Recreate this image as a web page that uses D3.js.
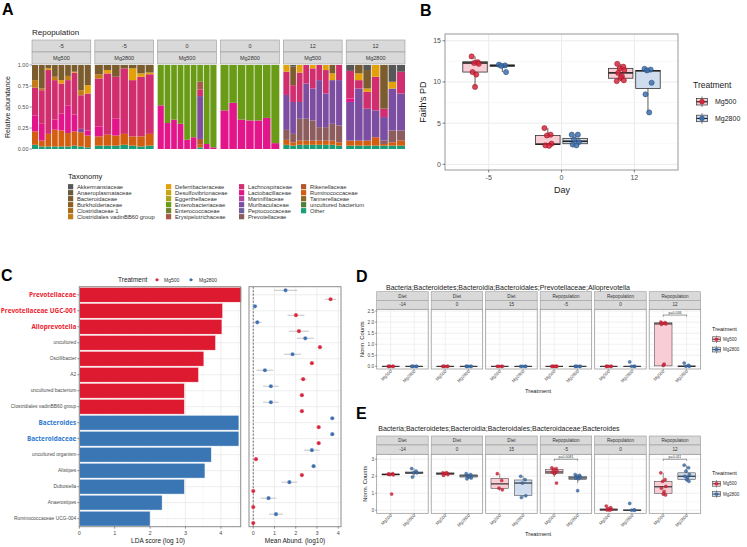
<!DOCTYPE html>
<html><head><meta charset="utf-8">
<script src="https://cdn.jsdelivr.net/npm/d3@7/dist/d3.min.js"></script>
<style>html,body{margin:0;padding:0;background:#fff;}</style>
</head><body>
<script>
// ================= DATA =================
// Panel A
const taxaNames = ["Akkermansiaceae","Anaeroplasmataceae","Bacteroidaceae","Burkholderiaceae","Clostridiaceae 1","Clostridiales vadinBB60 group","Deferribacteraceae","Desulfovibrionaceae","Eggerthellaceae","Enterobacteriaceae","Enterococcaceae","Erysipelotrichaceae","Lachnospiraceae","Lactobacillaceae","Marinifilaceae","Muribaculaceae","Peptococcaceae","Prevotellaceae","Rikenellaceae","Ruminococcaceae","Tannerellaceae","uncultured bacterium","Other"];
const taxaKeys = ["Akk","Ana","Bac","Bur","Clo","CvB","Def","Des","Egg","Ent","Enc","Ery","Lac","Lab","Mar","Mur","Pep","Pre","Rik","Rum","Tan","Unc","Oth"];
const taxaColors = ["#575757","#6b5b3e","#7a5c2e","#8c5f22","#a7691b","#c27c16","#e3a008","#c9a50f","#a9a517","#6a9b17","#71802a","#a8574a","#d02e6e","#e2168a","#b2419e","#7b4ea1","#6f5f9d","#8d5c5c","#b4562b","#d45e0f","#8c6b28","#4f7f3a","#1b9e77"];
const facetDaysA = ["-5","-5","0","0","12","12"];
const facetTrtA = ["Mg500","Mg2800","Mg500","Mg2800","Mg500","Mg2800"];
const barsDm5Mg500 = [
 {Bac:.18,CvB:.09,Lac:.33,Lab:.19,Rum:.16,Oth:.05},
 {Bac:.28,CvB:.02,Lac:.40,Lab:.20,Rum:.07,Oth:.03},
 {Bac:.04,Def:.02,Lac:.76,Rum:.15,Oth:.03},
 {Bac:.14,CvB:.04,Lac:.47,Lab:.12,Rum:.20,Oth:.03},
 {Bac:.18,Def:.04,Lac:.36,Lab:.20,Rum:.19,Oth:.03},
 {Bac:.13,CvB:.05,Lac:.30,Lab:.33,Rum:.16,Oth:.03},
 {Bac:.08,Def:.01,Lac:.50,Lab:.20,Rum:.17,Oth:.04},
 {Bac:.30,CvB:.06,Lac:.40,Mur:.04,Rum:.17,Oth:.03},
 {Bac:.24,Def:.10,Lac:.44,Lab:.06,Rum:.14,Oth:.02}];
const barsDm5Mg2800 = [
 {Bac:.11,CvB:.05,Lac:.57,Lab:.12,Rum:.11,Oth:.04},
 {Bac:.06,Def:.04,Lac:.73,Rum:.13,Oth:.04},
 {Bac:.14,Lac:.50,Lab:.20,Rum:.12,Oth:.04},
 {Bac:.04,Lac:.78,Rum:.13,Oth:.05},
 {Bac:.04,Def:.14,Lac:.67,Rum:.11,Oth:.04},
 {Bac:.10,Def:.04,Lac:.71,Rum:.12,Oth:.03},
 {Bac:.09,Def:.02,Lac:.71,Rum:.14,Oth:.04}];
const barsD0Mg500 = [
 {Ent:.48,Lab:.52},{Ent:.69,Lab:.31},{Ent:.65,Lab:.35},{Ent:.70,Lab:.30},{Ent:.89,Lab:.11},
 {Ent:.86,Lab:.14},{Ent:.20,Ery:.09,Lac:.08,Mur:.51,Rik:.07,Rum:.03,Oth:.02},{Ent:.94,Lab:.06},{Ent:.98,Lab:.02}];
const barsD0Mg2800 = [
 {Ent:.54,Lab:.46},{Ent:.45,Lab:.55},{Ent:.65,Lab:.35},{Ent:.66,Lab:.34},{Ent:.66,Lab:.34},{Ent:.63,Lab:.37},{Ent:.93,Lab:.07}];
const barsD12Mg500 = [
 {Def:.08,Lac:.28,Mur:.42,Pre:.12,Rum:.06,Oth:.05},
 {Akk:.02,Bac:.22,Lac:.20,Mur:.38,Pre:.10,Rum:.04,Oth:.04},
 {Def:.09,Lac:.35,Mur:.20,Pre:.26,Rum:.05,Oth:.05},
 {Lac:.22,Mur:.42,Pre:.26,Rum:.05,Oth:.05},
 {Def:.04,Lac:.24,Mur:.38,Pre:.24,Rum:.05,Oth:.05},
 {Lac:.18,Mur:.56,Pre:.16,Rum:.05,Oth:.05},
 {Def:.06,Lac:.28,Mur:.40,Pre:.16,Rum:.05,Oth:.05},
 {Bac:.10,Def:.08,Mur:.52,Pre:.20,Rum:.05,Oth:.05},
 {Lac:.18,Mur:.54,Pre:.20,Rum:.04,Oth:.04}];
const barsD12Mg2800 = [
 {Akk:.07,Lac:.33,Lab:.04,Mur:.46,Rum:.06,Oth:.04},
 {Bac:.10,Def:.08,Lac:.10,Mur:.62,Rum:.06,Oth:.04},
 {Akk:.06,Bac:.22,Def:.04,Lac:.20,Mur:.38,Rum:.06,Oth:.04},
 {Def:.14,Lac:.40,Mur:.32,Rum:.10,Oth:.04},
 {Bac:.52,Lac:.10,Mur:.28,Pre:.04,Rum:.02,Oth:.04},
 {Akk:.20,Def:.08,Mur:.50,Pre:.14,Rum:.04,Oth:.04},
 {Akk:.08,Lac:.26,Mur:.44,Pre:.12,Rum:.06,Oth:.04}];
const yTicksA = [0,0.25,0.5,0.75,1];

// Panel B
const bDays = ["-5","0","12"];
const treatments = ["Mg500","Mg2800"];
const faithPts500 = [[13.1,12.4,12.3,12.2,11.2,10.9,9.4],[4.4,3.6,3.5,2.5,2.3,2.25],[12.2,11.85,11.65,11.45,11.1,10.7,10.5,10.2,10.1]];
const faithPts2800 = [[12.1,12.0,11.95,11.2],[3.6,3.6,3.0,2.7,2.4,2.3],[11.6,11.5,11.4,9.9,8.5,6.3]];
// [q1, median, q3, lower whisker, upper whisker]
const faithBox500 = [[11.2,12.3,12.45,9.4,13.1],[2.4,2.45,3.5,2.25,4.4],[10.45,11.1,11.65,10.1,12.2]];
const faithBox2800 = [[11.9,12.0,12.05,11.2,12.1],[2.5,2.8,3.15,2.3,3.6],[9.2,11.35,11.4,6.3,11.6]];
const yTicksB = [0,5,10,15];

// Panel C
const ldaTaxa = ["Prevotellaceae","Prevotellaceae UGC-001","Alloprevotella","uncultured","Oscillibacter","A2","uncultured bacterium","Clostridiales vadinBB60 group","Bacteroides","Bacteroidaceae","uncultured organism","Alistipes","Dubosiella","Anaerostipes","Ruminococcaceae UCG-004"];
const ldaScore = [4.62,4.05,4.03,3.85,3.52,3.37,2.97,2.97,4.51,4.51,3.73,3.55,2.97,2.34,2.0];
const ldaGroup = ["Mg500","Mg500","Mg500","Mg500","Mg500","Mg500","Mg500","Mg500","Mg2800","Mg2800","Mg2800","Mg2800","Mg2800","Mg2800","Mg2800"];
const ldaHighlight = [1,1,1,0,0,0,0,0,1,1,0,0,0,0,0];
const abund500 = [3.64,2.01,2.15,3.14,2.76,2.35,2.29,2.29,3.08,3.08,0.13,2.29,0,0,0];
const abund500Err = [0.27,0.4,0.47,0.1,0.1,0.17,0.1,0.1,0.08,0.08,0.1,0.1,0,0,0];
const abund2800 = [1.52,0.08,0.19,2.45,1.85,0.55,0.83,0.83,3.72,3.72,2.76,2.84,1.70,0.72,1.07];
const abund2800Err = [0.55,0.1,0.2,0.4,0.4,0.4,0.37,0.37,0.08,0.08,0.37,0.1,0.37,0.37,0.33];
const ldaTicks = [0,1,2,3,4];

// Panels D & E
const phaseLabels = ["Diet","Diet","Diet","Repopulation","Repopulation","Repopulation"];
const dayLabels = ["-14","0","15","-5","0","12"];
const dTitle = "Bacteria;Bacteroidetes;Bacteroidia;Bacteroidales;Prevotellaceae;Alloprevotella";
const dPts500 = [[0,0,0,0,0],[0,0,0,0,0],[0,0,0,0],[0,0,0,0,0,0],[0,0,0,0,0],[2.0,1.98,1.95,1.92,1.9,0.1,0.04]];
const dPts2800 = [[0,0,0,0,0],[0,0,0,0,0],[0,0,0,0],[0,0,0,0,0],[0.2,0,0,0],[0.15,0.05,0,0]];
const dBox500 = [[0,0,0,0,0],[0,0,0,0,0],[0,0,0,0,0],[0,0,0,0,0],[0,0,0,0,0],[0.02,1.92,1.97,0,2.0]];
const dBox2800 = [[0,0,0,0,0],[0,0,0,0,0],[0,0,0,0,0],[0,0,0,0,0],[0,0,0,0,0.0],[0,0,0.02,0,0.05]];
const dTicks = [0,0.5,1,1.5,2,2.5];
const dBrackets = [{facet:5, y:2.32, label:"p=0.036"}];
const eTitle = "Bacteria;Bacteroidetes;Bacteroidia;Bacteroidales;Bacteroidaceae;Bacteroides";
const ePts500 = [[2.12,2.15,2.1,2.08,2.13,0.95],[2.2,2.18,2.15,2.1,2.05,2.2],[2.15,1.75,1.3,1.2],[2.5,2.45,2.4,2.3,2.25,2.2,2.15,1.6],[0.25,0.15,0.1,0.05,0.02,0],[2.2,1.8,1.7,1.4,1.3,1.1,0.95,0.9]];
const ePts2800 = [[2.45,2.3,2.2,2.2,1.95],[2.15,2.1,2.0,1.9,1.85,1.95],[2.0,1.8,1.6,0.85,0.75],[2.1,2.05,2.0,1.95,1.9,1.85,1.15],[0.4,0.02,0,0],[2.65,2.5,2.3,2.1,2.0,1.9,1.8,1.7]];
const eBox500 = [[2.08,2.1,2.14,2.05,2.16],[2.1,2.15,2.2,2.05,2.22],[1.28,1.55,1.88,1.15,2.15],[2.15,2.25,2.4,1.95,2.5],[0,0.03,0.08,0,0.15],[1.0,1.38,1.7,0.88,2.2]];
const eBox2800 = [[2.15,2.2,2.25,1.95,2.45],[1.95,2.02,2.08,1.85,2.15],[0.87,1.6,1.78,0.75,2.0],[1.8,1.9,2.0,1.6,2.1],[0,0,0.02,0,0.05],[1.82,2.0,2.2,1.7,2.65]];
const eTicks = [0,1,2,3];
const eBrackets = [{facet:3, y:3.0, label:"p=0.0081"},{facet:5, y:3.0, label:"p=0.011"}];

// ================= STYLE =================
const FONT = "'Liberation Sans', Arial, Helvetica, sans-serif";
const TXT = "#1a1a1a", AX = "#4d4d4d", GRID = "#ebebeb", BORDER = "#8c8c8c";
const trtPoint = {Mg500:"#d7263d", Mg2800:"#3d70ae"};
const trtStroke = {Mg500:"#8e1422", Mg2800:"#22446f"};
const trtFill = {Mg500:"#f9cdd4", Mg2800:"#d0ddee"};
const ldaColor = {Mg500:"#dd1a2f", Mg2800:"#3a75b4"};
const jit = [-0.28,0.22,-0.08,0.3,-0.2,0.1,0.0,0.26,-0.32,0.16];

const svg = d3.select("body").append("svg").attr("width",747).attr("height",547).style("font-family",FONT).style("display","block");
svg.append("rect").attr("width",747).attr("height",547).attr("fill","#fff");

function txt(g,x,y,s,o={}){
  const t=g.append("text").attr("x",x).attr("y",y).text(s)
    .attr("font-size",o.size||6).attr("fill",o.fill||TXT).attr("text-anchor",o.anchor||"start");
  if(o.weight) t.attr("font-weight",o.weight);
  if(o.rotate!==undefined) t.attr("transform",`rotate(${o.rotate},${x},${y})`);
  if(o.family) t.attr("font-family",o.family);
  return t;
}
function hline(g,x1,x2,y,c,w,dash){const l=g.append("line").attr("x1",x1).attr("x2",x2).attr("y1",y).attr("y2",y).attr("stroke",c).attr("stroke-width",w); if(dash) l.attr("stroke-dasharray",dash); return l;}
function vline(g,x,y1,y2,c,w,dash){const l=g.append("line").attr("x1",x).attr("x2",x).attr("y1",y1).attr("y2",y2).attr("stroke",c).attr("stroke-width",w); if(dash) l.attr("stroke-dasharray",dash); return l;}
function strip(g,x,y,w,h,label,fs){
  g.append("rect").attr("x",x).attr("y",y).attr("width",w).attr("height",h).attr("fill","#d9d9d9").attr("stroke","#9a9a9a").attr("stroke-width",0.6);
  txt(g,x+w/2,y+h/2+fs*0.36,label,{size:fs,anchor:"middle",fill:"#333"});
}

// ================= PANEL A =================
(function(){
  const g=svg.append("g");
  txt(g,2,15,"A",{size:16,weight:"bold",fill:"#000"});
  txt(g,32,35,"Repopulation",{size:8});
  const color=d3.scaleOrdinal(taxaKeys,taxaColors);
  const facets=[barsDm5Mg500,barsDm5Mg2800,barsD0Mg500,barsD0Mg2800,barsD12Mg500,barsD12Mg2800];
  const fx=d3.scaleBand().domain(d3.range(6)).range([32,405]).paddingInner(0.064);
  const y=d3.scaleLinear().domain([0,1]).range([149,65]);
  const stack=d3.stack().keys(taxaKeys.slice().reverse()).value((d,k)=>d[k]||0).offset(d3.stackOffsetExpand);
  facets.forEach((bars,i)=>{
    const px=fx(i), w=fx.bandwidth();
    strip(g,px,40,w,12,facetDaysA[i],5.5);
    strip(g,px,52,w,12,facetTrtA[i],5.5);
    const bx=d3.scaleBand().domain(d3.range(bars.length)).range([px,px+w]);
    stack(bars).forEach(s=>{
      s.forEach((seg,j)=>{
        if(seg[1]-seg[0]<=0) return;
        g.append("rect").attr("x",bx(j)).attr("y",y(seg[1])).attr("width",bx.bandwidth()).attr("height",y(seg[0])-y(seg[1])).attr("fill",color(s.key));
      });
    });
    d3.range(1,bars.length).forEach(j=>vline(g,bx(j),y(1),y(0),"#fff",0.7));
  });
  yTicksA.forEach(t=>{
    hline(g,29.5,32,y(t),"#333",0.5);
    txt(g,28.5,y(t)+2,d3.format(".2f")(t),{size:5.5,anchor:"end",fill:AX});
  });
  txt(g,10,107,"Relative abundance",{size:7,anchor:"middle",rotate:-90});
  // legend
  txt(g,68,179,"Taxonomy",{size:7.5});
  const colX=[68,166,239,301];
  taxaNames.forEach((n,k)=>{
    const c=Math.floor(k/6), r=k%6;
    const cy=186.7+r*6;
    g.append("rect").attr("x",colX[c]).attr("y",cy-2.6).attr("width",5.2).attr("height",5.2).attr("fill",taxaColors[k]);
    txt(g,colX[c]+9,cy+2,n,{size:5.8,fill:"#333"});
  });
})();

// ================= PANEL B =================
(function(){
  const g=svg.append("g");
  txt(g,420,16,"B",{size:16,weight:"bold",fill:"#000"});
  const L=445,R=678,T=34,B=170;
  const x=d3.scalePoint().domain(bDays).range([L,R]).padding(0.6);
  const y=d3.scaleLinear().domain([-0.69,15.82]).range([B,T]);
  g.append("rect").attr("x",L).attr("y",T).attr("width",R-L).attr("height",B-T).attr("fill","#fff");
  [2.5,7.5,12.5].forEach(t=>hline(g,L,R,y(t),"#f3f3f3",0.6));
  yTicksB.forEach(t=>hline(g,L,R,y(t),GRID,1));
  bDays.forEach(d=>vline(g,x(d),T,B,GRID,1));
  const off=x.step()*0.1875, bw=24.5;
  [[faithPts500,faithBox500,"Mg500",-1],[faithPts2800,faithBox2800,"Mg2800",1]].forEach(([pts,box,trt,sgn])=>{
    bDays.forEach((d,i)=>{
      const cx=x(d)+sgn*off, b=box[i];
      vline(g,cx,y(b[3]),y(b[0]),"#333",0.8);
      vline(g,cx,y(b[2]),y(b[4]),"#333",0.8);
      g.append("rect").attr("x",cx-bw/2).attr("y",y(b[2])).attr("width",bw).attr("height",Math.max(0,y(b[0])-y(b[2]))).attr("fill",trtFill[trt]).attr("stroke","#333").attr("stroke-width",0.8);
      hline(g,cx-bw/2,cx+bw/2,y(b[1]),"#222",1.6);
      pts[i].forEach((v,k)=>{
        g.append("circle").attr("cx",cx+jit[k%jit.length]*bw*0.5).attr("cy",y(v)).attr("r",2.6)
          .attr("fill",trtPoint[trt]).attr("fill-opacity",0.85).attr("stroke",trtStroke[trt]).attr("stroke-width",0.5);
      });
    });
  });
  g.append("rect").attr("x",L).attr("y",T).attr("width",R-L).attr("height",B-T).attr("fill","none").attr("stroke",BORDER).attr("stroke-width",0.9);
  yTicksB.forEach(t=>{hline(g,L-2.5,L,y(t),"#333",0.6); txt(g,L-4,y(t)+2.4,String(t),{size:7,anchor:"end",fill:AX});});
  bDays.forEach(d=>{vline(g,x(d),B,B+2.5,"#333",0.6); txt(g,x(d),B+10,d,{size:7,anchor:"middle",fill:AX});});
  txt(g,562,193,"Day",{size:9,anchor:"middle"});
  txt(g,426,102,"Faith's PD",{size:9,anchor:"middle",rotate:-90});
  // legend
  txt(g,693,88,"Treatment",{size:8.5});
  treatments.forEach((t,i)=>{
    const ky=96.5+i*16.7, kx=696, kw=12, kh=10.5;
    vline(g,kx+kw/2,ky,ky+kh,"#333",0.7);
    g.append("rect").attr("x",kx+0.5).attr("y",ky+2).attr("width",kw-1).attr("height",kh-4).attr("fill",trtFill[t]).attr("stroke","#333").attr("stroke-width",0.7);
    hline(g,kx+0.5,kx+kw-0.5,ky+kh/2,"#222",1.2);
    g.append("circle").attr("cx",kx+kw/2).attr("cy",ky+kh/2).attr("r",2.4).attr("fill",trtPoint[t]).attr("stroke",trtStroke[t]).attr("stroke-width",0.5);
    txt(g,715,ky+kh/2+2.5,t,{size:7});
  });
})();

// ================= PANEL C =================
(function(){
  const g=svg.append("g");
  txt(g,1,281,"C",{size:16,weight:"bold",fill:"#000"});
  // legend
  txt(g,118,282,"Treatment",{size:6.5});
  [["Mg500",157,164],["Mg2800",191,199]].forEach(([t,px,tx])=>{
    hline(g,px-2.5,px+2.5,279.8,"#bbb",0.5);
    g.append("circle").attr("cx",px).attr("cy",279.8).attr("r",1.5).attr("fill",trtPoint[t]);
    txt(g,tx,281.6,t,{size:5,fill:"#333"});
  });
  const T=286.7,B=526.7;
  const y=d3.scaleBand().domain(ldaTaxa).range([T,B]).paddingInner(0.07).paddingOuter(0.04);
  // left LDA panel
  const L=79.3,R=240.7;
  const x=d3.scaleLinear().domain([0,4.56]).range([L,R]);
  g.append("rect").attr("x",L).attr("y",T).attr("width",R-L).attr("height",B-T).attr("fill","#fff");
  [0.5,1.5,2.5,3.5,4.5].forEach(t=>vline(g,x(t),T,B,"#f3f3f3",0.6));
  ldaTicks.forEach(t=>vline(g,x(t),T,B,GRID,0.9));
  ldaTaxa.forEach(n=>hline(g,L,R,y(n)+y.bandwidth()/2,GRID,0.9));
  const gc=g.append("g").attr("clip-path","url(#clipLda)");
  svg.append("defs").append("clipPath").attr("id","clipLda").append("rect").attr("x",L).attr("y",T).attr("width",R-L+0.5).attr("height",B-T);
  ldaTaxa.forEach((n,i)=>{
    gc.append("rect").attr("x",x(0)).attr("y",y(n)).attr("width",x(ldaScore[i])-x(0)).attr("height",y.bandwidth())
      .attr("fill",ldaColor[ldaGroup[i]]).attr("stroke","#fff").attr("stroke-width",0.5);
  });
  g.append("rect").attr("x",L).attr("y",T).attr("width",R-L).attr("height",B-T).attr("fill","none").attr("stroke",BORDER).attr("stroke-width",1);
  ldaTaxa.forEach((n,i)=>{
    const cy=y(n)+y.bandwidth()/2;
    hline(g,L-2,L,cy,"#333",0.5);
    if(ldaHighlight[i]) txt(g,L-3,cy+2.2,n,{size:6.4,anchor:"end",weight:"bold",fill:ldaGroup[i]==="Mg500"?"#ee1c2e":"#2f7bcf",family:"'Open Sans','Liberation Sans',sans-serif"});
    else txt(g,L-3,cy+1.7,n,{size:4.9,anchor:"end",fill:AX});
  });
  ldaTicks.forEach(t=>{vline(g,x(t),B,B+2,"#333",0.5); txt(g,x(t),B+8.5,String(t),{size:5.5,anchor:"middle",fill:AX});});
  txt(g,158,543,"LDA score (log 10)",{size:6.5,anchor:"middle"});
  // right mean abundance panel
  const L2=249,R2=341;
  const x2=d3.scaleLinear().domain([-0.2,4.13]).range([L2,R2]);
  g.append("rect").attr("x",L2).attr("y",T).attr("width",R2-L2).attr("height",B-T).attr("fill","#fff");
  ldaTicks.forEach(t=>vline(g,x2(t),T,B,GRID,0.9));
  ldaTaxa.forEach(n=>hline(g,L2,R2,y(n)+y.bandwidth()/2,GRID,0.9));
  vline(g,x2(0),T,B,"#333",0.7,"2,1.5");
  const dy=y.bandwidth()*0.3;
  ldaTaxa.forEach((n,i)=>{
    const cy=y(n)+y.bandwidth()/2;
    [["Mg2800",abund2800[i],abund2800Err[i],cy-dy],["Mg500",abund500[i],abund500Err[i],cy+dy]].forEach(([t,v,e,py])=>{
      if(e>0) hline(g,x2(Math.max(0,v-e)),x2(v+e),py,"#b5b5b5",0.8);
      g.append("circle").attr("cx",x2(v)).attr("cy",py).attr("r",2.1).attr("fill",trtPoint[t]).attr("stroke","#fff").attr("stroke-width",0.3);
    });
  });
  g.append("rect").attr("x",L2).attr("y",T).attr("width",R2-L2).attr("height",B-T).attr("fill","none").attr("stroke",BORDER).attr("stroke-width",1);
  ldaTicks.forEach(t=>{vline(g,x2(t),B,B+2,"#333",0.5); txt(g,x2(t),B+8.5,String(t),{size:5.5,anchor:"middle",fill:AX});});
  txt(g,295,543,"Mean Abund. (log10)",{size:6.5,anchor:"middle"});
})();

// ================= PANELS D, E =================
function facetBoxPanel(o){
  const g=svg.append("g");
  txt(g,o.labelX,o.labelY,o.letter,{size:16,weight:"bold",fill:"#000"});
  txt(g,o.titleX,o.titleY,o.title,{size:7});
  const fx=d3.scaleBand().domain(d3.range(6)).range([376.7,700.7]).paddingInner(0.055);
  const y=d3.scaleLinear().domain(o.yDomain).range([o.plotBottom,o.plotTop]);
  const pts={Mg500:o.pts500,Mg2800:o.pts2800}, box={Mg500:o.box500,Mg2800:o.box2800};
  phaseLabels.forEach((ph,i)=>{
    const px=fx(i), w=fx.bandwidth();
    strip(g,px,o.stripTop,w,o.stripMid-o.stripTop,ph,4.6);
    strip(g,px,o.stripMid,w,o.plotTop-o.stripMid,dayLabels[i],4.6);
    g.append("rect").attr("x",px).attr("y",o.plotTop).attr("width",w).attr("height",o.plotBottom-o.plotTop).attr("fill","#fff");
    const xp=d3.scalePoint().domain(treatments).range([px,px+w]).padding(0.6);
    o.minor.forEach(t=>hline(g,px,px+w,y(t),"#f3f3f3",0.5));
    o.ticks.forEach(t=>hline(g,px,px+w,y(t),GRID,0.8));
    treatments.forEach(t=>vline(g,xp(t),o.plotTop,o.plotBottom,GRID,0.8));
    const bw=xp.step()*0.75;
    treatments.forEach(t=>{
      const cx=xp(t), b=box[t][i];
      vline(g,cx,y(b[3]),y(b[0]),"#333",0.5);
      vline(g,cx,y(b[2]),y(b[4]),"#333",0.5);
      g.append("rect").attr("x",cx-bw/2).attr("y",y(b[2])).attr("width",bw).attr("height",Math.max(0,y(b[0])-y(b[2]))).attr("fill",trtFill[t]).attr("stroke","#333").attr("stroke-width",0.5);
      hline(g,cx-bw/2,cx+bw/2,y(b[1]),"#222",1.1);
      pts[t][i].forEach((v,k)=>{
        g.append("circle").attr("cx",cx+jit[k%jit.length]*bw*0.5).attr("cy",y(v)).attr("r",1.6)
          .attr("fill",trtPoint[t]).attr("fill-opacity",0.85).attr("stroke",trtStroke[t]).attr("stroke-width",0.3);
      });
      const lx=cx+1.5, ly=o.plotBottom+2.5;
      txt(g,lx,ly,t,{size:4.4,anchor:"end",fill:AX,rotate:-45});
      vline(g,cx,o.plotBottom,o.plotBottom+1.5,"#333",0.4);
    });
    o.brackets.filter(b=>b.facet===i).forEach(b=>{
      const x1=xp("Mg500"), x2=xp("Mg2800"), by=y(b.y);
      hline(g,x1,x2,by,"#333",0.5);
      vline(g,x1,by,by+1.5,"#333",0.5); vline(g,x2,by,by+1.5,"#333",0.5);
      txt(g,(x1+x2)/2,by-1,b.label,{size:3.6,anchor:"middle",fill:"#333"});
    });
    g.append("rect").attr("x",px).attr("y",o.plotTop).attr("width",w).attr("height",o.plotBottom-o.plotTop).attr("fill","none").attr("stroke",BORDER).attr("stroke-width",0.7);
  });
  const x0=fx(0);
  o.ticks.forEach(t=>{hline(g,x0-1.8,x0,y(t),"#333",0.4); txt(g,x0-2.5,y(t)+1.7,o.fmt(t),{size:4.8,anchor:"end",fill:AX});});
  txt(g,o.yTitleX,(o.plotTop+o.plotBottom)/2,"Norm. Counts",{size:5.8,anchor:"middle",rotate:-90});
  txt(g,538,o.xTitleY,"Treatment",{size:5.8,anchor:"middle"});
  // legend
  txt(g,712,o.legY,"Treatment",{size:5.5});
  treatments.forEach((t,k)=>{
    const ky=o.legY+5+k*10.3, kx=712.5, kw=8, kh=7.5;
    vline(g,kx+kw/2,ky,ky+kh,"#333",0.5);
    g.append("rect").attr("x",kx).attr("y",ky+1.3).attr("width",kw).attr("height",kh-2.6).attr("fill",trtFill[t]).attr("stroke","#333").attr("stroke-width",0.5);
    hline(g,kx,kx+kw,ky+kh/2,"#222",0.8);
    g.append("circle").attr("cx",kx+kw/2).attr("cy",ky+kh/2).attr("r",1.6).attr("fill",trtPoint[t]).attr("stroke",trtStroke[t]).attr("stroke-width",0.3);
    txt(g,723,ky+kh/2+1.6,t,{size:4.5,fill:"#333"});
  });
}
facetBoxPanel({letter:"D",labelX:356,labelY:282,title:dTitle,titleX:386,titleY:290,
  stripTop:291.7,stripMid:300.3,plotTop:309.3,plotBottom:369,yDomain:[-0.12,2.58],
  ticks:dTicks,minor:[0.25,0.75,1.25,1.75,2.25],fmt:d3.format(".1f"),
  pts500:dPts500,pts2800:dPts2800,box500:dBox500,box2800:dBox2800,brackets:dBrackets,
  yTitleX:364,xTitleY:393,legY:330.5});
facetBoxPanel({letter:"E",labelX:356,labelY:419,title:eTitle,titleX:378.3,titleY:430.5,
  stripTop:436,stripMid:445,plotTop:454.3,plotBottom:513.3,yDomain:[-0.18,3.29],
  ticks:eTicks,minor:[0.5,1.5,2.5],fmt:d3.format("d"),
  pts500:ePts500,pts2800:ePts2800,box500:eBox500,box2800:eBox2800,brackets:eBrackets,
  yTitleX:367,xTitleY:536,legY:475});
</script>
</body></html>
